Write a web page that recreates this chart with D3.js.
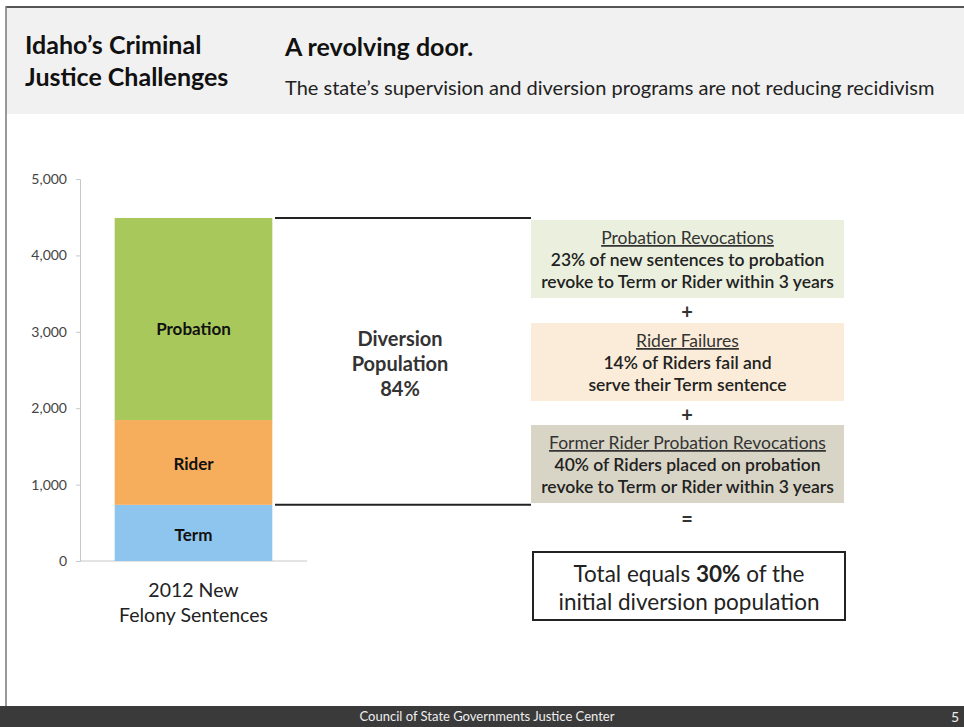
<!DOCTYPE html>
<html>
<head>
<meta charset="utf-8">
<script src="https://cdn.jsdelivr.net/npm/d3@7"></script>
<style>
  html, body { margin: 0; padding: 0; background: #fff; }
  svg { display: block; font-family: Lato, "Open Sans", sans-serif; }
</style>
</head>
<body>
<svg id="chart" width="964" height="727"></svg>
<script>
// Stacked 2012 new felony sentences by type
const categories = ["2012 New Felony Sentences"];
const segments = ["Term", "Rider", "Probation"];
const segmentValues = [735, 1110, 2645];
const segmentColors = ["#8ec5ef", "#f7ae5c", "#a9c85c"];
const yTicks = [0, 1000, 2000, 3000, 4000, 5000];

// Pathway boxes on the right
const boxTitles = ["Probation Revocations", "Rider Failures", "Former Rider Probation Revocations"];
const boxLines = [
  ["23% of new sentences to probation", "revoke to Term or Rider within 3 years"],
  ["14% of Riders fail and", "serve their Term sentence"],
  ["40% of Riders placed on probation", "revoke to Term or Rider within 3 years"]
];
const boxFills = ["#ebf0de", "#fbecd9", "#d9d5c6"];
const operators = ["+", "+", "="];

const svg = d3.select("#chart");

// Header band and frame
svg.append("rect").attr("x", 6).attr("y", 8).attr("width", 958).attr("height", 106).attr("fill", "#f1f1f1");
svg.append("line").attr("x1", 6).attr("x2", 964).attr("y1", 7).attr("y2", 7).attr("stroke", "#555").attr("stroke-width", 2);
svg.append("line").attr("x1", 6).attr("x2", 6).attr("y1", 6).attr("y2", 706).attr("stroke", "#777").attr("stroke-width", 1.5);

svg.append("text").attr("x", 25).attr("y", 54).attr("font-size", 25).attr("font-weight", 700).attr("fill", "#111").text("Idaho’s Criminal");
svg.append("text").attr("x", 25).attr("y", 86).attr("font-size", 25).attr("font-weight", 700).attr("fill", "#111").text("Justice Challenges");
svg.append("text").attr("x", 285).attr("y", 56).attr("font-size", 25).attr("font-weight", 700).attr("fill", "#111").text("A revolving door.");
svg.append("text").attr("x", 285).attr("y", 95).attr("font-size", 20).attr("fill", "#222").text("The state’s supervision and diversion programs are not reducing recidivism");

// Footer
svg.append("rect").attr("x", 0).attr("y", 706).attr("width", 964).attr("height", 21).attr("fill", "#3a3a3a");
svg.append("text").attr("x", 487).attr("y", 721).attr("text-anchor", "middle").attr("font-size", 13).attr("fill", "#eee")
  .text("Council of State Governments Justice Center");
svg.append("text").attr("x", 955).attr("y", 722).attr("text-anchor", "middle").attr("font-size", 14).attr("fill", "#eee").text("5");

// Scales
const y = d3.scaleLinear().domain([0, 5000]).range([561, 179]);

// Axis
const yAxis = d3.axisLeft(y).tickValues(yTicks).tickFormat(d3.format(",")).tickSize(4).tickPadding(9);
const gy = svg.append("g").attr("transform", "translate(80,0)").call(yAxis);
gy.select(".domain").attr("stroke", "#c8c8c8");
gy.selectAll(".tick line").attr("stroke", "#c8c8c8");
gy.selectAll(".tick text").attr("font-size", 14).attr("fill", "#444").attr("font-family", "Lato, sans-serif");
svg.append("line").attr("x1", 80).attr("x2", 307).attr("y1", y(0)).attr("y2", y(0)).attr("stroke", "#c8c8c8");

// Stacked bar
const stack = [];
let acc = 0;
segments.forEach((s, i) => { stack.push({ name: s, y0: acc, y1: acc + segmentValues[i], color: segmentColors[i] }); acc += segmentValues[i]; });
const total = acc;
const x = d3.scaleBand().domain(categories).range([80, 307]).paddingInner(0).paddingOuter(0.22);
const bx = x(categories[0]), bw = x.bandwidth();
const barG = svg.append("g");
barG.selectAll("rect").data(stack).join("rect")
  .attr("x", bx).attr("width", bw)
  .attr("y", d => y(d.y1)).attr("height", d => y(d.y0) - y(d.y1))
  .attr("fill", d => d.color);
const labelY = { Term: 535, Rider: 464, Probation: 329 };
barG.selectAll("text").data(stack).join("text")
  .attr("x", bx + bw / 2).attr("y", d => labelY[d.name] ?? (y(d.y0) + y(d.y1)) / 2)
  .attr("dy", "0.35em").attr("text-anchor", "middle")
  .attr("font-size", 17).attr("font-weight", 700).attr("fill", "#111")
  .text(d => d.name);

// Category label
svg.append("text").attr("x", bx + bw / 2).attr("y", 597).attr("text-anchor", "middle").attr("font-size", 19.5).attr("fill", "#222").text("2012 New");
svg.append("text").attr("x", bx + bw / 2).attr("y", 622).attr("text-anchor", "middle").attr("font-size", 19.5).attr("fill", "#222").text("Felony Sentences");

// Diversion bracket lines (top of bar and top of Term)
const divTop = y(total), divBot = y(segmentValues[0]);
svg.append("line").attr("x1", 275).attr("x2", 531).attr("y1", divTop).attr("y2", divTop).attr("stroke", "#222").attr("stroke-width", 2);
svg.append("line").attr("x1", 275).attr("x2", 531).attr("y1", divBot).attr("y2", divBot).attr("stroke", "#222").attr("stroke-width", 2);
const divPct = Math.round((total - segmentValues[0]) / total * 100);
["Diversion", "Population", divPct + "%"].forEach((t, i) => {
  svg.append("text").attr("x", 400).attr("y", 346 + i * 25).attr("text-anchor", "middle")
    .attr("font-size", 20).attr("font-weight", 700).attr("fill", "#333").text(t);
});

// Pathway boxes
const boxX = 531, boxW = 313, boxH = 78;
const boxTops = [220, 323, 425];
boxTitles.forEach((title, i) => {
  const g = svg.append("g").attr("transform", `translate(${boxX},${boxTops[i]})`);
  g.append("rect").attr("width", boxW).attr("height", boxH).attr("fill", boxFills[i]);
  g.append("text").attr("x", boxW / 2).attr("y", 24).attr("text-anchor", "middle").attr("font-size", 17.5)
    .attr("fill", "#333").attr("text-decoration", "underline").text(title);
  boxLines[i].forEach((l, j) => {
    g.append("text").attr("x", boxW / 2).attr("y", 46 + j * 22).attr("text-anchor", "middle")
      .attr("font-size", 17.5).attr("font-weight", 600).attr("fill", "#222").text(l);
  });
});
const opY = [319, 422, 526];
operators.forEach((o, i) => {
  svg.append("text").attr("x", 687).attr("y", opY[i]).attr("text-anchor", "middle")
    .attr("font-size", 20).attr("font-weight", 700).attr("fill", "#333").text(o);
});

// Total box
svg.append("rect").attr("x", 533).attr("y", 552).attr("width", 312).attr("height", 68)
  .attr("fill", "#fff").attr("stroke", "#222").attr("stroke-width", 2);
const t1 = svg.append("text").attr("x", 689).attr("y", 582).attr("text-anchor", "middle").attr("font-size", 22.5).attr("fill", "#222");
t1.append("tspan").text("Total equals ");
t1.append("tspan").attr("font-weight", 700).text("30%");
t1.append("tspan").text(" of the");
svg.append("text").attr("x", 689).attr("y", 610).attr("text-anchor", "middle").attr("font-size", 22.5).attr("fill", "#222").text("initial diversion population");
</script>
</body>
</html>
